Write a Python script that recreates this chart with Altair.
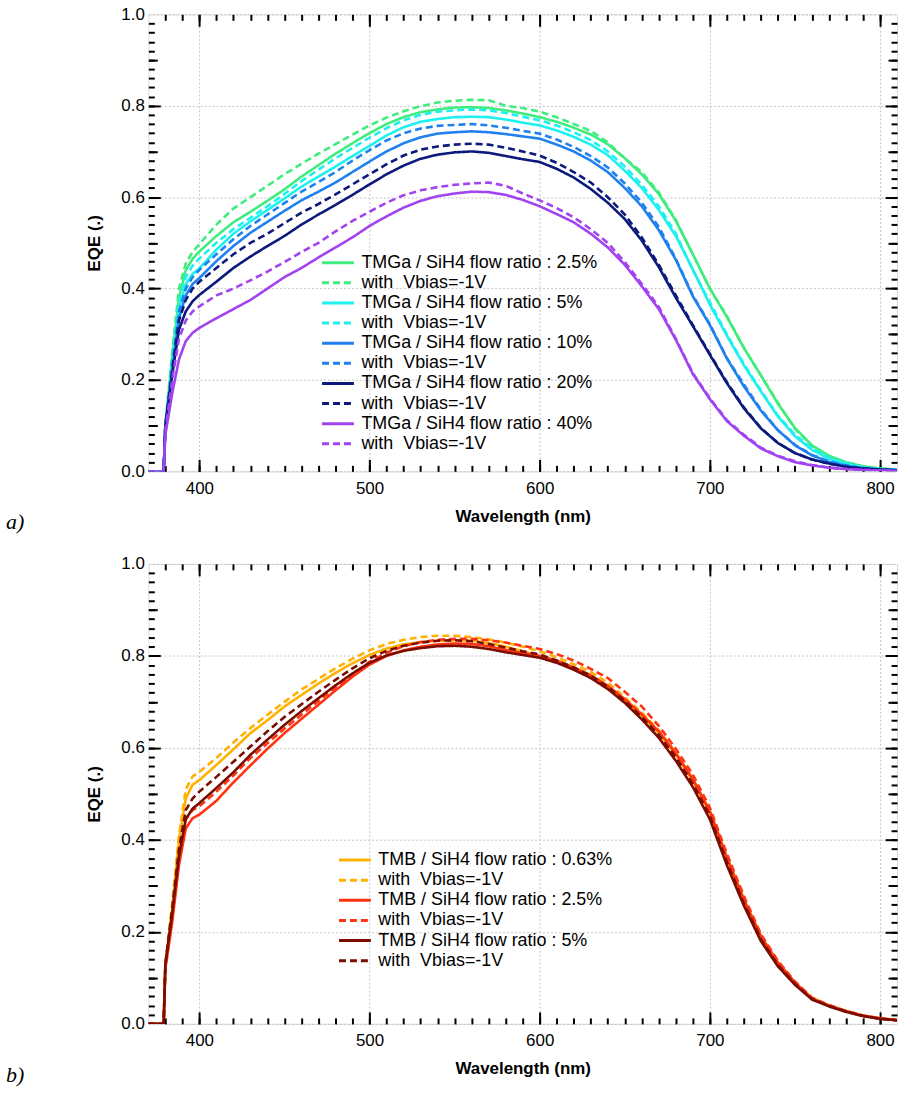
import altair as alt
import pandas as pd

NM = [370, 379, 380, 384, 388, 392, 396] + list(range(400, 811, 10))

# ---------- panel a : TMGa ----------
A_25 = [0, 0, 0.10, 0.25, 0.38, 0.44, 0.465, 0.481, 0.515, 0.545, 0.568, 0.592, 0.617, 0.645, 0.67, 0.695, 0.718, 0.74, 0.76, 0.775, 0.786, 0.792, 0.796, 0.797, 0.795, 0.79, 0.783, 0.775, 0.765, 0.752, 0.737, 0.716, 0.685, 0.65, 0.607, 0.548, 0.475, 0.40, 0.338, 0.27, 0.21, 0.148, 0.095, 0.057, 0.034, 0.02, 0.011, 0.006, 0.004]
A_25V = [0, 0, 0.10, 0.26, 0.40, 0.455, 0.48, 0.497, 0.54, 0.575, 0.60, 0.625, 0.65, 0.673, 0.695, 0.716, 0.737, 0.757, 0.774, 0.788, 0.799, 0.807, 0.811, 0.813, 0.812, 0.80, 0.795, 0.787, 0.775, 0.76, 0.745, 0.72, 0.685, 0.655, 0.61, 0.55, 0.475, 0.40, 0.34, 0.27, 0.21, 0.15, 0.093, 0.055, 0.033, 0.02, 0.011, 0.006, 0.004]
A_5 = [0, 0, 0.10, 0.23, 0.355, 0.41, 0.432, 0.444, 0.485, 0.52, 0.547, 0.572, 0.597, 0.623, 0.645, 0.667, 0.69, 0.712, 0.735, 0.753, 0.765, 0.771, 0.775, 0.776, 0.775, 0.77, 0.763, 0.757, 0.746, 0.732, 0.715, 0.692, 0.658, 0.62, 0.572, 0.515, 0.442, 0.365, 0.297, 0.232, 0.175, 0.12, 0.077, 0.047, 0.028, 0.016, 0.008, 0.005, 0.003]
A_5V = [0, 0, 0.10, 0.24, 0.37, 0.425, 0.45, 0.466, 0.50, 0.53, 0.555, 0.58, 0.607, 0.635, 0.66, 0.685, 0.708, 0.73, 0.751, 0.768, 0.78, 0.787, 0.79, 0.792, 0.79, 0.784, 0.776, 0.768, 0.757, 0.742, 0.725, 0.70, 0.667, 0.627, 0.58, 0.52, 0.44, 0.37, 0.30, 0.235, 0.177, 0.122, 0.08, 0.05, 0.03, 0.018, 0.009, 0.005, 0.003]
A_10 = [0, 0, 0.10, 0.22, 0.335, 0.385, 0.41, 0.423, 0.46, 0.493, 0.522, 0.546, 0.57, 0.593, 0.612, 0.632, 0.655, 0.678, 0.70, 0.718, 0.731, 0.739, 0.742, 0.744, 0.742, 0.738, 0.733, 0.728, 0.715, 0.70, 0.68, 0.655, 0.62, 0.58, 0.528, 0.463, 0.383, 0.32, 0.247, 0.186, 0.133, 0.09, 0.057, 0.035, 0.021, 0.012, 0.007, 0.004, 0.003]
A_10V = [0, 0, 0.10, 0.23, 0.35, 0.40, 0.425, 0.441, 0.475, 0.508, 0.537, 0.562, 0.587, 0.612, 0.633, 0.655, 0.68, 0.703, 0.724, 0.74, 0.75, 0.756, 0.758, 0.76, 0.757, 0.752, 0.745, 0.739, 0.726, 0.71, 0.69, 0.665, 0.63, 0.588, 0.535, 0.465, 0.385, 0.322, 0.248, 0.19, 0.135, 0.09, 0.058, 0.036, 0.022, 0.013, 0.007, 0.004, 0.003]
A_20 = [0, 0, 0.10, 0.21, 0.31, 0.35, 0.372, 0.386, 0.415, 0.445, 0.47, 0.493, 0.515, 0.54, 0.562, 0.583, 0.605, 0.628, 0.65, 0.669, 0.684, 0.693, 0.698, 0.70, 0.697, 0.69, 0.683, 0.677, 0.662, 0.643, 0.618, 0.588, 0.552, 0.505, 0.447, 0.38, 0.318, 0.255, 0.193, 0.138, 0.094, 0.062, 0.04, 0.026, 0.017, 0.01, 0.006, 0.004, 0.002]
A_20V = [0, 0, 0.10, 0.22, 0.33, 0.375, 0.40, 0.415, 0.445, 0.475, 0.50, 0.52, 0.543, 0.566, 0.585, 0.606, 0.628, 0.65, 0.672, 0.691, 0.704, 0.711, 0.715, 0.717, 0.715, 0.708, 0.70, 0.691, 0.675, 0.655, 0.632, 0.60, 0.562, 0.512, 0.452, 0.385, 0.32, 0.257, 0.195, 0.14, 0.095, 0.062, 0.04, 0.026, 0.017, 0.01, 0.006, 0.004, 0.002]
A_40 = [0, 0, 0.08, 0.17, 0.245, 0.285, 0.303, 0.314, 0.335, 0.355, 0.375, 0.40, 0.425, 0.445, 0.468, 0.49, 0.512, 0.537, 0.558, 0.577, 0.592, 0.602, 0.608, 0.612, 0.611, 0.605, 0.594, 0.58, 0.563, 0.545, 0.52, 0.49, 0.452, 0.405, 0.355, 0.288, 0.213, 0.158, 0.11, 0.078, 0.05, 0.033, 0.02, 0.013, 0.008, 0.005, 0.003, 0.002, 0.001]
A_40V = [0, 0, 0.09, 0.20, 0.29, 0.33, 0.35, 0.361, 0.385, 0.40, 0.418, 0.437, 0.458, 0.48, 0.50, 0.525, 0.548, 0.568, 0.588, 0.604, 0.615, 0.622, 0.627, 0.63, 0.632, 0.625, 0.608, 0.593, 0.576, 0.556, 0.53, 0.50, 0.458, 0.41, 0.36, 0.29, 0.215, 0.16, 0.112, 0.08, 0.052, 0.034, 0.022, 0.014, 0.008, 0.005, 0.003, 0.002, 0.001]

# ---------- panel b : TMB ----------
B_063 = [0, 0, 0.13, 0.25, 0.40, 0.49, 0.52, 0.53, 0.563, 0.597, 0.632, 0.66, 0.69, 0.715, 0.74, 0.763, 0.784, 0.802, 0.816, 0.825, 0.83, 0.833, 0.834, 0.833, 0.828, 0.82, 0.81, 0.80, 0.788, 0.773, 0.755, 0.732, 0.703, 0.67, 0.632, 0.585, 0.528, 0.46, 0.36, 0.268, 0.188, 0.132, 0.09, 0.055, 0.04, 0.028, 0.018, 0.012, 0.008]
B_063V = [0, 0, 0.13, 0.26, 0.41, 0.51, 0.538, 0.548, 0.578, 0.612, 0.643, 0.672, 0.70, 0.727, 0.75, 0.773, 0.794, 0.812, 0.826, 0.835, 0.841, 0.844, 0.844, 0.841, 0.836, 0.829, 0.82, 0.81, 0.797, 0.782, 0.765, 0.742, 0.71, 0.677, 0.638, 0.59, 0.533, 0.463, 0.363, 0.272, 0.192, 0.134, 0.09, 0.057, 0.04, 0.028, 0.018, 0.012, 0.009]
B_25 = [0, 0, 0.12, 0.22, 0.345, 0.425, 0.447, 0.455, 0.485, 0.525, 0.562, 0.598, 0.632, 0.663, 0.694, 0.725, 0.755, 0.781, 0.80, 0.812, 0.82, 0.825, 0.827, 0.826, 0.821, 0.813, 0.806, 0.80, 0.79, 0.775, 0.758, 0.735, 0.706, 0.673, 0.636, 0.588, 0.532, 0.462, 0.362, 0.27, 0.19, 0.133, 0.09, 0.055, 0.04, 0.028, 0.018, 0.012, 0.008]
B_25V = [0, 0, 0.12, 0.23, 0.36, 0.445, 0.465, 0.473, 0.505, 0.54, 0.578, 0.61, 0.642, 0.672, 0.702, 0.732, 0.76, 0.787, 0.807, 0.821, 0.83, 0.835, 0.837, 0.837, 0.834, 0.829, 0.822, 0.815, 0.804, 0.79, 0.772, 0.752, 0.722, 0.69, 0.648, 0.598, 0.542, 0.47, 0.37, 0.278, 0.195, 0.137, 0.092, 0.057, 0.041, 0.028, 0.018, 0.012, 0.008]
B_5 = [0, 0, 0.13, 0.24, 0.365, 0.445, 0.468, 0.48, 0.513, 0.547, 0.585, 0.618, 0.65, 0.68, 0.708, 0.736, 0.762, 0.785, 0.801, 0.811, 0.817, 0.821, 0.822, 0.82, 0.815, 0.808, 0.802, 0.796, 0.785, 0.77, 0.752, 0.728, 0.698, 0.662, 0.622, 0.572, 0.515, 0.445, 0.345, 0.257, 0.18, 0.125, 0.085, 0.053, 0.038, 0.026, 0.017, 0.011, 0.008]
B_5V = [0, 0, 0.13, 0.25, 0.38, 0.465, 0.49, 0.505, 0.537, 0.57, 0.603, 0.636, 0.667, 0.695, 0.722, 0.748, 0.773, 0.795, 0.811, 0.822, 0.829, 0.833, 0.834, 0.832, 0.826, 0.818, 0.81, 0.803, 0.79, 0.775, 0.757, 0.733, 0.702, 0.667, 0.628, 0.58, 0.522, 0.452, 0.352, 0.262, 0.184, 0.128, 0.087, 0.054, 0.039, 0.027, 0.017, 0.011, 0.008]

VB = "\u00a0with\u00a0\u00a0Vbias=-1V"
A_NAMES = ["TMGa / SiH4 flow ratio : 2.5%", "2.5% Vbias", "TMGa / SiH4 flow ratio : 5%", "5% Vbias",
           "TMGa / SiH4 flow ratio : 10%", "10% Vbias", "TMGa / SiH4 flow ratio : 20%", "20% Vbias",
           "TMGa / SiH4 flow ratio : 40%", "40% Vbias"]
A_SERIES = [A_25, A_25V, A_5, A_5V, A_10, A_10V, A_20, A_20V, A_40, A_40V]
A_COLORS = ["#3FEC7E", "#3FEC7E", "#1CF0F0", "#1CF0F0", "#1F80F0", "#1F80F0",
            "#0C1A7C", "#0C1A7C", "#A243F0", "#A243F0"]

B_NAMES = ["TMB / SiH4 flow ratio : 0.63%", "0.63% Vbias", "TMB / SiH4 flow ratio : 2.5%", "2.5% Vbias",
           "TMB / SiH4 flow ratio : 5%", "5% Vbias"]
B_SERIES = [B_063, B_063V, B_25, B_25V, B_5, B_5V]
B_COLORS = ["#FFB000", "#FFB000", "#FF3212", "#FF3212", "#7A0C00", "#7A0C00"]

SOLID = [1, 0]
DASH = [7, 4]

X_MAJOR = [400, 500, 600, 700, 800]
X_MINOR = list(range(380, 801, 10))
Y_LABELS = [0, 0.2, 0.4, 0.6, 0.8, 1.0]
Y_MAJOR = [0.2, 0.4, 0.6, 0.8]
Y_MID = [0.1, 0.3, 0.5, 0.7, 0.9]
Y_MINOR = [i / 50 for i in range(1, 50)]

FONT = "Liberation Sans"


def build_df(names, series):
    rows = []
    for name, vals in zip(names, series):
        for nm, v in zip(NM, vals):
            rows.append({"nm": nm, "eqe": v, "series": name})
    return pd.DataFrame(rows)


def tick_axis(orient, values, size):
    return alt.Axis(orient=orient, values=values, labels=False, domain=False, grid=False,
                    ticks=True, tickSize=size, tickWidth=2, tickColor="black",
                    offset=-size, title=None)


def panel(names, series, colors, leg_x, leg_y, tag, h):
    df = build_df(names, series)
    xs = alt.Scale(domain=[370, 810], nice=False, zero=False)
    ys = alt.Scale(domain=[0, 1], nice=False, zero=False)
    dashes = [SOLID if i % 2 == 0 else DASH for i in range(len(names))]
    leg = alt.Legend(orient="none", legendX=leg_x, legendY=leg_y, title=None,
                     labelFont=FONT, labelFontSize=18, labelColor="black",
                     symbolType="M-2,0H2", symbolSize=256, symbolStrokeWidth=3,
                     symbolOffset=8, labelOffset=14, labelLimit=600, rowPadding=1.2,
                     padding=0,
                     labelExpr="indexof(datum.label, 'Vbias') >= 0 ? '" + VB + "' : datum.label")
    base = alt.Chart(df)
    lines = base.mark_line(strokeWidth=2.6, clip=True).encode(
        x=alt.X("nm:Q", scale=xs,
                axis=alt.Axis(orient="bottom", values=X_MAJOR, title="Wavelength (nm)",
                              ticks=False, tickSize=0, domain=False, grid=True,
                              gridColor="#c4c4c4", gridDash=[2, 2], gridWidth=1,
                              labelFont=FONT, labelFontSize=17, labelColor="black",
                              labelPadding=9, titleFont=FONT, titleFontSize=17,
                              titleFontWeight="bold", titleColor="black", titlePadding=12)),
        y=alt.Y("eqe:Q", scale=ys,
                axis=alt.Axis(orient="left", values=Y_LABELS, format=".1f", title="EQE (.)",
                              ticks=False, tickSize=0, domain=False, grid=True,
                              gridColor="#c4c4c4", gridDash=[2, 2], gridWidth=1,
                              labelFont=FONT, labelFontSize=17, labelColor="black",
                              labelPadding=4, titleFont=FONT, titleFontSize=17,
                              titleFontWeight="bold", titleColor="black", titlePadding=17)),
        color=alt.Color("series:N", scale=alt.Scale(domain=names, range=colors), legend=leg),
        strokeDash=alt.StrokeDash("series:N", scale=alt.Scale(domain=names, range=dashes), legend=leg),
    )

    def ghost(xa, ya):
        return base.mark_point(opacity=0).encode(
            x=alt.X("nm:Q", scale=xs, axis=xa),
            y=alt.Y("eqe:Q", scale=ys, axis=ya),
        )

    layers = [
        lines,
        ghost(tick_axis("bottom", X_MINOR, 6), tick_axis("left", Y_MINOR, 6)),
        ghost(tick_axis("bottom", X_MAJOR, 12), tick_axis("left", Y_MID, 9)),
        ghost(tick_axis("top", X_MINOR, 6), tick_axis("right", Y_MINOR, 6)),
        ghost(tick_axis("top", X_MAJOR, 12), tick_axis("right", Y_MID, 9)),
        ghost(None, tick_axis("left", Y_MAJOR, 12)),
        ghost(None, tick_axis("right", Y_MAJOR, 12)),
    ]
    return alt.layer(*layers).resolve_axis(x="independent", y="independent").properties(
        width=752, height=h,
        title=alt.TitleParams(text=tag, orient="bottom", anchor="start", frame="group",
                              dx=-143, offset=-12, font="Liberation Serif", fontStyle="italic",
                              fontWeight="normal", fontSize=22, color="black"),
    )


pa = panel(A_NAMES, A_SERIES, A_COLORS, 173, 240, "a)", 459)
pb = panel(B_NAMES, B_SERIES, B_COLORS, 190, 288, "b)", 462)

chart = alt.vconcat(pa, pb, spacing=20).resolve_scale(
    color="independent", strokeDash="independent"
).properties(
    padding={"left": 5, "top": 2, "right": 0, "bottom": 2}
).configure_view(stroke="black", strokeWidth=2).configure(background="white")

chart.save("out.html", embed_options={"renderer": "svg", "actions": False})
